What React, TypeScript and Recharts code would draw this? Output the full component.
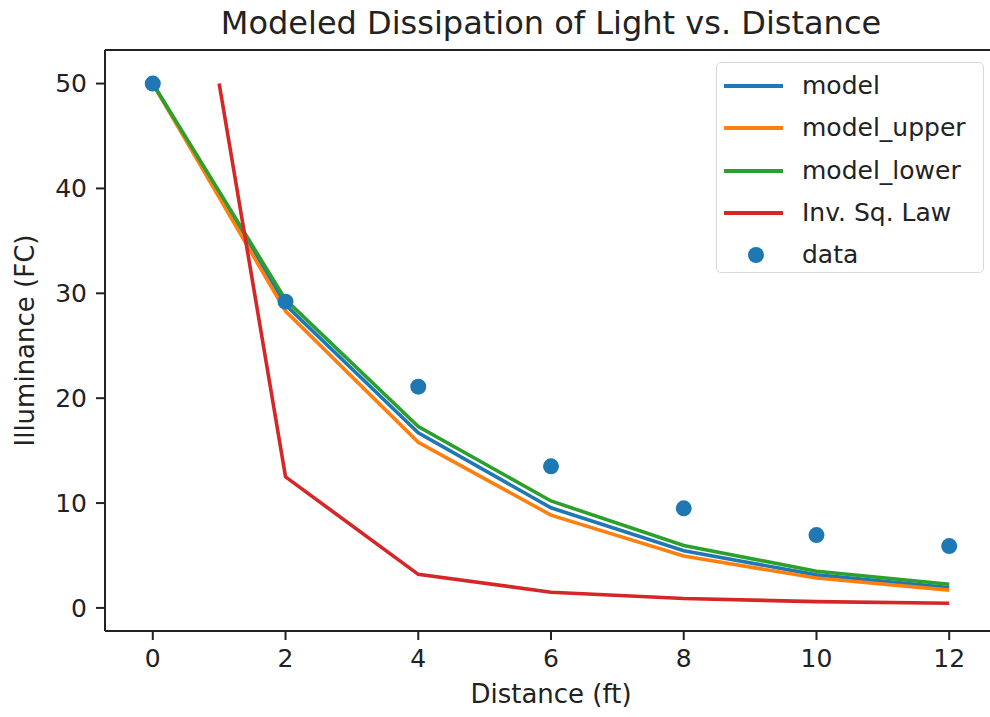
import { ComposedChart, Label, Legend, Line, ReferenceLine, Scatter, XAxis, YAxis } from "recharts";

const distances = [0, 2, 4, 6, 8, 10, 12];
const measured = [50, 29.2, 21.1, 13.5, 9.5, 6.95, 5.9];
const model = [50, 28.9, 16.7, 9.55, 5.45, 3.15, 1.95];
const modelUpper = [50, 28.3, 15.8, 8.85, 4.95, 2.85, 1.7];
const modelLower = [50, 29.4, 17.3, 10.2, 5.95, 3.5, 2.25];
const invSqDistances = [1, 2, 4, 6, 8, 10, 12];
const invSqLaw = [50, 12.5, 3.2, 1.5, 0.9, 0.6, 0.45];
const xTicks = [0, 2, 4, 6, 8, 10, 12];
const yTicks = [0, 10, 20, 30, 40, 50];
const xDomain = [-0.72, 12.72];
const yDomain = [-2.2, 53.2];

const FONT = "'DejaVu Sans', sans-serif";
const INK = "#222";

const toPoints = (xs: number[], ys: number[]) => xs.map((x, i) => ({ x, y: ys[i] }));

const lineSeries = [
  { name: "model", color: "#1f77b4", data: toPoints(distances, model) },
  { name: "model_upper", color: "#ff7f0e", data: toPoints(distances, modelUpper) },
  { name: "model_lower", color: "#2ca02c", data: toPoints(distances, modelLower) },
  { name: "Inv. Sq. Law", color: "#d62728", data: toPoints(invSqDistances, invSqLaw) },
];
const dataPoints = toPoints(distances, measured);

function LegendBox() {
  return (
    <div
      style={{
        width: 268,
        height: 211,
        boxSizing: "border-box",
        border: "1.5px solid #d8d8d8",
        borderRadius: 5,
        background: "rgba(255,255,255,0.8)",
        position: "relative",
        fontFamily: FONT,
        fontSize: 25,
        color: INK,
      }}
    >
      {lineSeries.map((s, i) => (
        <div key={s.name} style={{ position: "absolute", left: 0, top: 23 + i * 42.3 - 18, height: 36, display: "flex", alignItems: "center" }}>
          <div style={{ position: "absolute", left: 7, width: 59, height: 4, background: s.color }} />
          <span style={{ position: "absolute", left: 85, whiteSpace: "nowrap", lineHeight: "36px" }}>{s.name}</span>
        </div>
      ))}
      <div style={{ position: "absolute", left: 0, top: 23 + 4 * 42.3 - 18, height: 36 }}>
        <div style={{ position: "absolute", left: 31, top: 10, width: 16, height: 16, borderRadius: 8, background: "#1f77b4" }} />
        <span style={{ position: "absolute", left: 85, whiteSpace: "nowrap", lineHeight: "36px" }}>data</span>
      </div>
    </div>
  );
}

export default function App() {
  return (
    <div style={{ position: "fixed", left: 0, top: 0, width: 990, height: 717, overflow: "hidden", background: "#fff" }}>
      <div
        style={{
          position: "absolute",
          left: 105,
          width: 892,
          top: 4,
          textAlign: "center",
          fontFamily: FONT,
          fontSize: 32,
          color: INK,
          whiteSpace: "nowrap",
        }}
      >
        Modeled Dissipation of Light vs. Distance
      </div>
      <ComposedChart width={1000} height={717} margin={{ top: 50, right: 3, bottom: 0, left: 0 }} style={{ fontFamily: FONT }}>
        <XAxis
          dataKey="x"
          type="number"
          domain={xDomain}
          ticks={xTicks}
          allowDataOverflow
          height={86}
          tickSize={9}
          tickMargin={9}
          stroke={INK}
          strokeWidth={2}
          tick={{ fontSize: 25, fill: INK }}
        >
          <Label value="Distance (ft)" position="insideBottom" offset={14} style={{ fontSize: 26, fill: INK }} />
        </XAxis>
        <YAxis
          type="number"
          domain={yDomain}
          ticks={yTicks}
          allowDataOverflow
          width={105}
          tickSize={9}
          tickMargin={9}
          stroke={INK}
          strokeWidth={2}
          tick={{ fontSize: 25, fill: INK }}
        >
          <Label value="Illuminance (FC)" angle={-90} position="insideLeft" offset={25} style={{ fontSize: 26, fill: INK, textAnchor: "middle" }} />
        </YAxis>
        <ReferenceLine y={yDomain[1]} stroke={INK} strokeWidth={2} ifOverflow="visible" />
        <Legend
          verticalAlign="middle"
          align="center"
          layout="vertical"
          wrapperStyle={{ left: 716, top: 62, width: 268 }}
          content={() => <LegendBox />}
        />
        <Scatter
          name="data"
          data={dataPoints}
          dataKey="y"
          isAnimationActive={false}
          shape={(p: any) => <circle cx={p.cx} cy={p.cy} r={8} fill="#1f77b4" />}
        />
        {lineSeries.map((s) => (
          <Line
            key={s.name}
            name={s.name}
            data={s.data}
            dataKey="y"
            type="linear"
            stroke={s.color}
            strokeWidth={3.6}
            dot={false}
            activeDot={false}
            isAnimationActive={false}
          />
        ))}
      </ComposedChart>
    </div>
  );
}
